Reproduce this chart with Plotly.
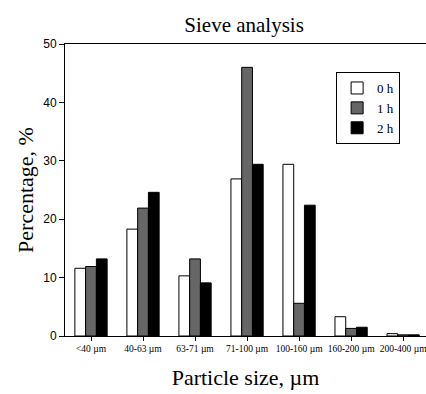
import plotly.graph_objects as go

categories = ["<40 µm", "40-63 µm", "63-71 µm", "71-100 µm", "100-160 µm", "160-200 µm", "200-400 µm"]
series_names = ["0 h", "1 h", "2 h"]
values_0h = [11.6, 18.3, 10.3, 26.9, 29.4, 3.3, 0.4]
values_1h = [11.9, 21.9, 13.2, 46.0, 5.6, 1.3, 0.2]
values_2h = [13.2, 24.6, 9.1, 29.4, 22.4, 1.5, 0.2]
colors = ["white", "#666666", "black"]

fig = go.Figure()
for name, vals, col in zip(series_names, [values_0h, values_1h, values_2h], colors):
    fig.add_trace(go.Bar(
        x=categories, y=vals, name=name,
        marker=dict(color=col, line=dict(color="black", width=1)),
    ))

serif = "Liberation Serif, Times New Roman, serif"
sans = "Liberation Sans, Arial, sans-serif"

fig.update_layout(
    width=426, height=394,
    margin=dict(l=65, r=0, t=44, b=58),
    paper_bgcolor="white", plot_bgcolor="white",
    barmode="group", bargap=0.38, bargroupgap=0,
    title=dict(text="Sieve analysis", x=0.573, xanchor="center", y=0.937, yanchor="middle",
               font=dict(family=serif, size=21, color="black")),
    legend=dict(x=0.751, y=0.904, xanchor="left", yanchor="top",
                bordercolor="black", borderwidth=1, bgcolor="white",
                font=dict(family=serif, size=13, color="black"),
                tracegroupgap=0, itemwidth=30),
    showlegend=True,
)
fig.update_xaxes(
    type="category", range=[-0.5, 6.44],
    showline=True, linecolor="black", linewidth=1, mirror=True,
    ticks="outside", ticklen=4, tickcolor="black",
    tickfont=dict(family=serif, size=9.5, color="black"),
    showgrid=False,
    title=dict(text="Particle size, µm", font=dict(family=serif, size=22, color="black"), standoff=16),
)
fig.update_yaxes(
    range=[0, 50], dtick=10,
    showline=True, linecolor="black", linewidth=1,
    ticks="outside", ticklen=5, tickcolor="black",
    tickfont=dict(family=sans, size=12, color="black"),
    showgrid=False, zeroline=False,
    title=dict(text="Percentage, %", font=dict(family=serif, size=22, color="black"), standoff=3),
)

fig.write_html("out.html")
